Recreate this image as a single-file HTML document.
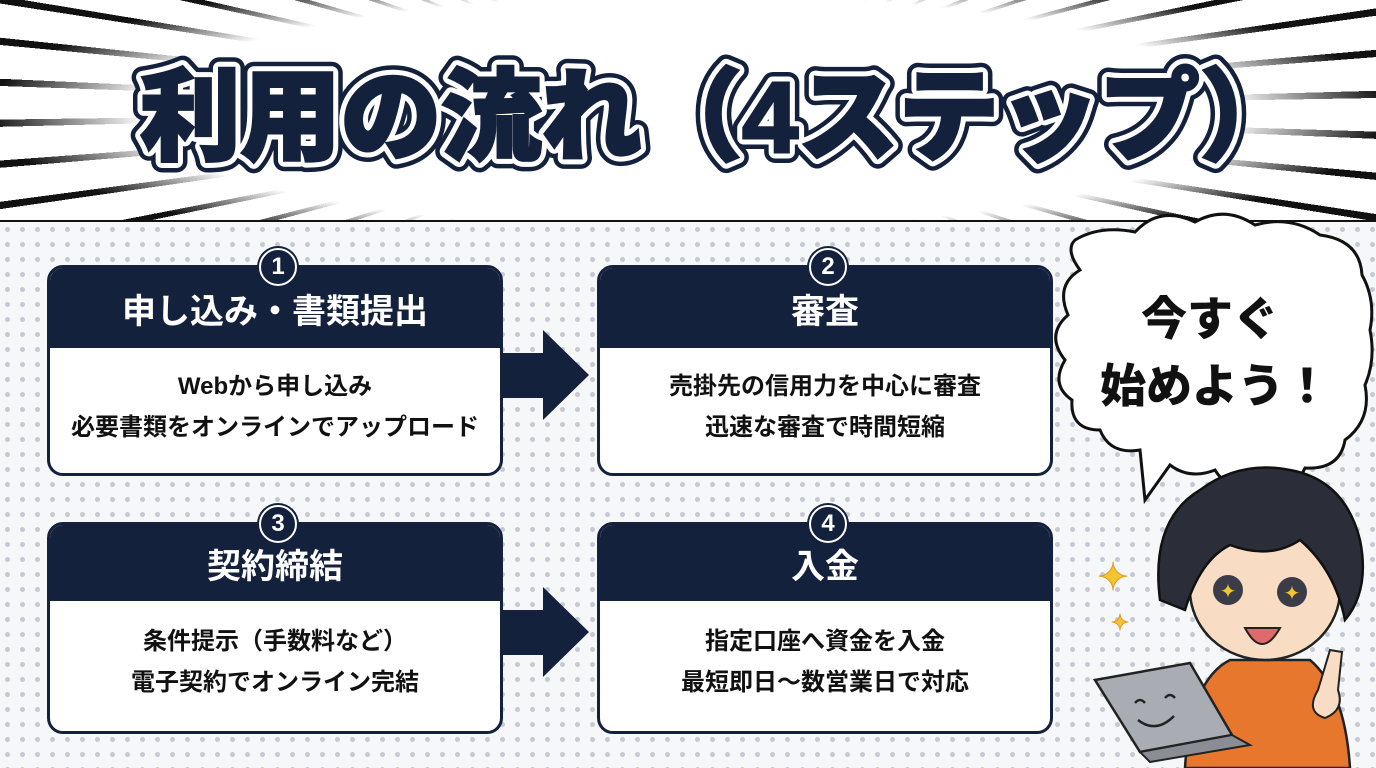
<!DOCTYPE html>
<html><head><meta charset="utf-8"><style>
html,body{margin:0;padding:0;overflow:hidden;width:1376px;height:768px}
body{position:relative;background:#f3f4f6;font-family:"Liberation Sans","Noto Sans CJK JP",sans-serif}
.dots{position:absolute;left:0;top:222px;width:1376px;height:546px;background-color:#f6f7f9;background-image:radial-gradient(circle,#c5c9d2 2.2px,transparent 2.8px);background-size:15px 15px}
.hdr{position:absolute;left:0;top:0;width:1376px;height:220px;background:#fff;overflow:hidden;border-bottom:3px solid #111}
.rays{position:absolute;left:-400px;top:-700px;width:2176px;height:1620px;background:repeating-conic-gradient(from 0deg at 50% 50%,#111 0deg 0.6deg,transparent 0.6deg 3.4deg)}
.mask{position:absolute;left:0;top:0;width:1376px;height:222px;background:radial-gradient(ellipse 700px 150px at 688px 112px,#fff 78%,rgba(255,255,255,0) 100%)}
.card{position:absolute;width:456px;border:3px solid #14213d;border-radius:16px;background:#fff;overflow:hidden;box-sizing:border-box}
.card .h{background:#14213d;color:#fff;text-align:center;font-weight:700;font-size:34px;box-sizing:border-box}
.card .b{text-align:center;font-weight:700;font-size:24px;line-height:41px;color:#111}
.num{position:absolute;width:34px;height:34px;border-radius:50%;background:#14213d;border:2px solid #fff;box-shadow:0 0 0 2px #14213d;color:#fff;font-weight:700;font-size:24px;line-height:34px;text-align:center}
</style></head><body>
<div class="hdr"><div class="rays"></div><div class="mask"></div>
<svg width="1376" height="222" style="position:absolute;left:0;top:0">
<g font-family="Liberation Sans,Noto Sans CJK JP,sans-serif" font-weight="900" font-size="100">
<text x="140" y="152" textLength="1160" lengthAdjust="spacingAndGlyphs" fill="none" stroke="#14213d" stroke-width="22" stroke-linejoin="round">利用の流れ（4ステップ）</text>
<text x="140" y="152" textLength="1160" lengthAdjust="spacingAndGlyphs" fill="none" stroke="#fff" stroke-width="13" stroke-linejoin="round">利用の流れ（4ステップ）</text>
<text x="140" y="152" textLength="1160" lengthAdjust="spacingAndGlyphs" fill="#14213d" stroke="#14213d" stroke-width="3">利用の流れ（4ステップ）</text>
</g></svg></div>
<div class="dots"></div>

<div class="card" style="left:47px;top:265px;height:211px"><div class="h" style="height:80px;line-height:88px">申し込み・書類提出</div><div class="b" style="padding-top:18px">Webから申し込み<br>必要書類をオンラインでアップロード</div></div>
<div class="card" style="left:597px;top:265px;height:211px"><div class="h" style="height:80px;line-height:88px">審査</div><div class="b" style="padding-top:18px">売掛先の信用力を中心に審査<br>迅速な審査で時間短縮</div></div>
<div class="card" style="left:47px;top:522px;height:212px"><div class="h" style="height:76px;line-height:84px">契約締結</div><div class="b" style="padding-top:20px">条件提示（手数料など）<br>電子契約でオンライン完結</div></div>
<div class="card" style="left:597px;top:522px;height:212px"><div class="h" style="height:76px;line-height:84px">入金</div><div class="b" style="padding-top:20px">指定口座へ資金を入金<br>最短即日～数営業日で対応</div></div>
<div class="num" style="left:259px;top:248px">1</div>
<div class="num" style="left:809px;top:248px">2</div>
<div class="num" style="left:259px;top:505px">3</div>
<div class="num" style="left:809px;top:505px">4</div>

<svg width="1376" height="768" style="position:absolute;left:0;top:0">
<polygon points="503,353 543,353 543,330 589,375 543,420 543,398 503,398" fill="#14213d"/>
<polygon points="503,610 543,610 543,587 589,632 543,677 543,655 503,655" fill="#14213d"/>
<path d="M1075,240 Q1100,225 1135,232 Q1160,205 1195,222 Q1225,205 1255,225 Q1290,215 1320,235 Q1360,240 1362,275 Q1376,300 1370,330 Q1376,360 1365,385 Q1372,420 1345,440 Q1340,470 1305,468 Q1290,500 1260,480 Q1230,495 1215,470 Q1190,480 1170,465 L1145,500 L1140,450 Q1110,455 1100,430 Q1070,430 1072,400 Q1050,385 1065,360 Q1045,335 1068,315 Q1055,285 1080,270 Q1065,250 1075,240 Z" fill="#fff" stroke="#111" stroke-width="3"/>
<text x="1210" y="335" text-anchor="middle" font-family="Liberation Sans,Noto Sans CJK JP,sans-serif" font-weight="900" font-size="46" fill="#111">今すぐ</text>
<text x="1215" y="402" text-anchor="middle" font-family="Liberation Sans,Noto Sans CJK JP,sans-serif" font-weight="900" font-size="46" fill="#111">始めよう！</text>
<path d="M1185,768 Q1190,680 1230,660 L1310,660 Q1345,690 1350,768 Z" fill="#e8772e" stroke="#222" stroke-width="2.5"/>
<ellipse cx="1265" cy="590" rx="75" ry="70" fill="#f9dcc4" stroke="#222" stroke-width="2.5"/>
<path d="M1160,600 Q1150,520 1200,490 Q1240,460 1290,470 Q1345,480 1360,540 Q1370,590 1345,620 Q1335,570 1300,540 Q1270,560 1230,545 Q1200,560 1185,610 Z" fill="#2b2e38" stroke="#111" stroke-width="2.5"/>
<circle cx="1228" cy="590" r="15" fill="#3a3d48"/><circle cx="1292" cy="592" r="15" fill="#3a3d48"/>
<text x="1228" y="598" text-anchor="middle" font-size="20" fill="#f4c430">✦</text>
<text x="1292" y="600" text-anchor="middle" font-size="20" fill="#f4c430">✦</text>
<path d="M1245,628 Q1262,660 1280,628 Z" fill="#e06a6a" stroke="#222" stroke-width="2"/>
<path d="M1318,690 L1330,650 L1342,652 L1338,690 Q1345,710 1325,718 Q1305,712 1318,690 Z" fill="#f9dcc4" stroke="#222" stroke-width="2"/>
<polygon points="1095,680 1190,663 1232,735 1140,752" fill="#a9adb3" stroke="#222" stroke-width="2.5"/>
<polygon points="1140,752 1232,735 1250,745 1150,762" fill="#8a8e94" stroke="#222" stroke-width="2"/>
<path d="M1135,703 q5,-6 10,0 M1165,698 q5,-6 10,0 M1138,720 q18,14 36,-4" stroke="#222" stroke-width="2.5" fill="none"/>
<text x="1113" y="590" text-anchor="middle" font-size="38" fill="#f4c430" stroke="#e29a20" stroke-width="1">✦</text>
<text x="1120" y="630" text-anchor="middle" font-size="22" fill="#f4c430" stroke="#e29a20" stroke-width="1">✦</text>
</svg>
</body></html>
